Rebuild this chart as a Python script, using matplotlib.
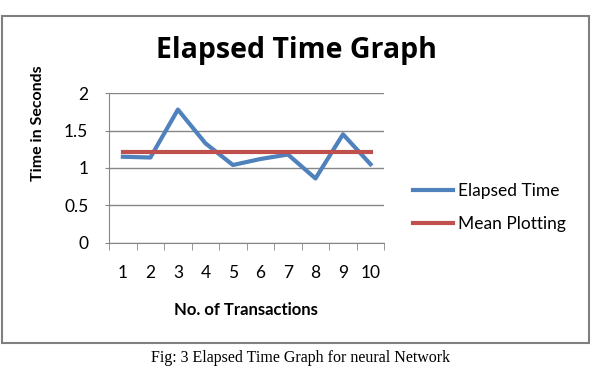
import matplotlib
matplotlib.use("Agg")
from matplotlib import pyplot as plt
from matplotlib.patches import Rectangle

transactions = [1, 2, 3, 4, 5, 6, 7, 8, 9, 10]
elapsed = [1.15, 1.14, 1.78, 1.33, 1.04, 1.12, 1.18, 0.86, 1.45, 1.05]
mean_value = 1.21
mean_line = [mean_value] * len(transactions)
y_ticks = [0, 0.5, 1, 1.5, 2]
y_tick_labels = ["0", "0.5", "1", "1.5", "2"]

plt.rcParams['font.family'] = ['Lato', 'DejaVu Sans']

fig = plt.figure(figsize=(5.93, 3.68), dpi=100)
# outer chart frame
fig.patches.append(Rectangle((0.004, 0.068), 0.99, 0.889, transform=fig.transFigure,
                             fill=False, edgecolor='#7f7f7f', linewidth=1.5))

ax = fig.add_axes([0.184, 0.34, 0.464, 0.407])
ax.plot(transactions, elapsed, color='#4F81BD', lw=3, label='Elapsed Time')
ax.plot(transactions, mean_line, color='#C0504D', lw=3, label='Mean Plotting')

ax.set_xlim(0.5, 10.5)
ax.set_ylim(0, 2)
ax.set_yticks(y_ticks)
ax.set_yticklabels(y_tick_labels)
ax.set_xticks(transactions)
ax.set_xticks([i + 0.5 for i in range(0, 11)], minor=True)
ax.tick_params(axis='x', which='major', length=0, pad=16, labelsize=12.5)
ax.tick_params(axis='x', which='minor', length=5, color='#868686', direction='out')
ax.tick_params(axis='y', length=3, color='#868686', labelsize=12.5, pad=12)
ax.yaxis.grid(True, color='#868686', lw=1)
ax.set_axisbelow(True)
for s in ['top', 'right']:
    ax.spines[s].set_visible(False)
for s in ['left', 'bottom']:
    ax.spines[s].set_color('#868686')

fig.text(0.064, 0.666, 'Time in Seconds', rotation=90, ha='center', va='center',
         fontsize=11.5, fontweight='bold')
fig.text(0.415, 0.158, 'No. of Transactions', ha='center', va='center',
         fontsize=12, fontweight='bold')
fig.text(0.5, 0.864, 'Elapsed Time Graph', ha='center', va='center', fontsize=20.5,
         fontweight='bold', family=['Open Sans', 'DejaVu Sans'])

ax.legend(loc='center left', bbox_to_anchor=(0.696, 0.436), bbox_transform=fig.transFigure,
          frameon=False, fontsize=12.5, borderpad=0, borderaxespad=0,
          handlelength=2.3, handletextpad=0.3, labelspacing=1.0)

fig.text(0.507, 0.005, 'Fig: 3 Elapsed Time Graph for neural Network', ha='center', va='bottom',
         fontsize=11.5, family='Liberation Serif')

fig.savefig('out.png', dpi=100)
